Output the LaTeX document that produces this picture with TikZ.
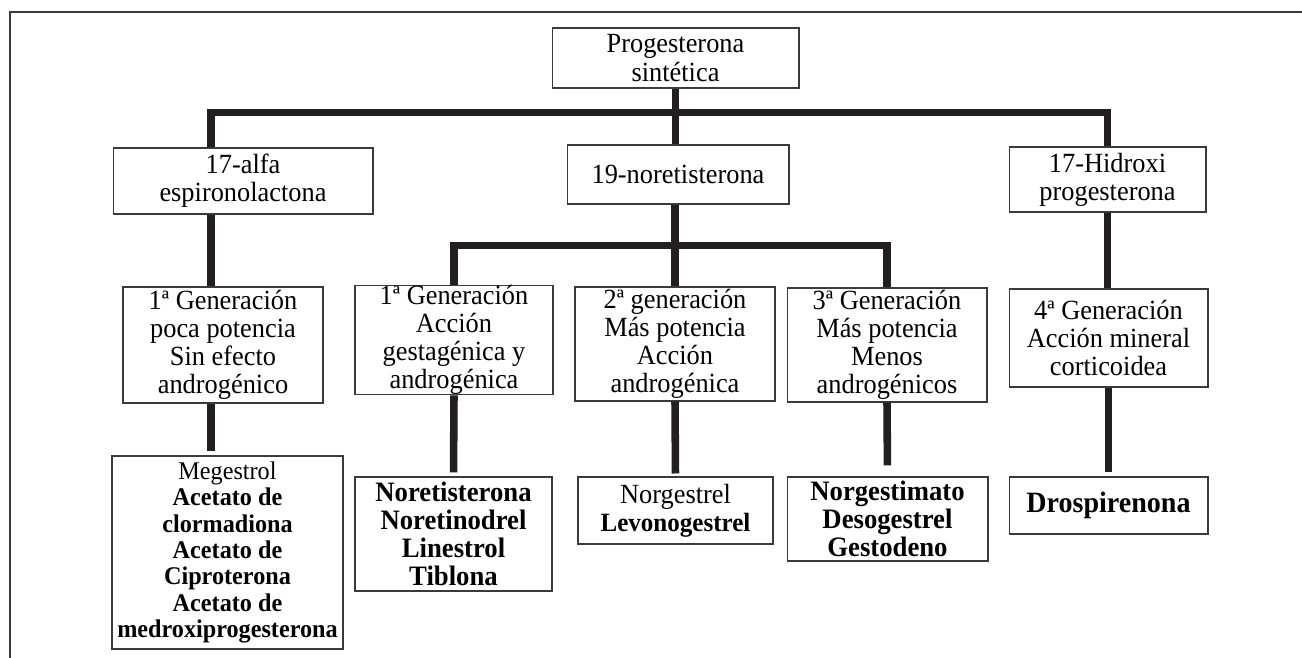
\documentclass[tikz,border=0pt]{standalone}
\usepackage{fontspec}
\setmainfont{Liberation Serif}[FakeStretch=0.95]
\usetikzlibrary{positioning,calc}
\definecolor{tinta}{HTML}{231F20}
\definecolor{borde}{HTML}{3A3A3A}

\begin{document}
\begin{tikzpicture}[x=0.02cm,y=-0.02cm,font=\fontsize{15.8}{16}\selectfont,
        b/.style={draw=borde,line width=0.6pt,align=center,inner sep=0pt},
        f/.style={draw=tinta,line width=4.3pt}]
        \useasboundingbox (0,0) rectangle (1302,658);
        \draw[borde,line width=0.8pt] (10,658) -- (10,12) -- (1302,12);
        % nivel 1 y 2
        \node[b,minimum width=4.94cm,minimum height=1.2cm] (prog) at (675.5,58) {Progesterona\\sintética};
        \node[b,minimum width=5.2cm,minimum height=1.32cm] (alfa) at (243,181) {17-alfa\\espironolactona};
        \node[b,minimum width=4.44cm,minimum height=1.18cm] (nor) at (678,174.5) {19-noretisterona};
        \node[b,minimum width=3.94cm,minimum height=1.3cm] (hidroxi) at (1107.5,179.5) {17-Hidroxi\\progesterona};
        % generaciones
        \node[b,minimum width=4cm,minimum height=2.32cm] (genA) at (223,345) {1ª Generación\\poca potencia\\Sin efecto\\androgénico};
        \node[b,minimum width=3.96cm,minimum height=2.16cm] (genB) at (454,340) {1ª Generación\\Acción\\gestagénica y\\androgénica};
        \node[b,minimum width=4cm,minimum height=2.28cm] (genC) at (675,344) {2ª generación\\Más potencia\\Acción\\androgénica};
        \node[b,minimum width=4cm,minimum height=2.28cm] (genD) at (887,345) {3ª Generación\\Más potencia\\Menos\\androgénicos};
        \node[b,minimum width=3.98cm,minimum height=1.96cm] (genE) at (1108.5,338) {4ª Generación\\Acción mineral\\corticoidea};
        % compuestos
        \node[b,minimum width=4.62cm,minimum height=3.86cm,font=\fontsize{14.5}{15}\selectfont] (meg) at (227.5,552.5)
          {Megestrol\\\textbf{Acetato de}\\\textbf{clormadiona}\\\textbf{Acetato de}\\\textbf{Ciproterona}\\\textbf{Acetato de}\\\textbf{medroxiprogesterona}};
        \node[b,minimum width=3.94cm,minimum height=2.28cm,font=\fontsize{16}{16}\bfseries] (noret) at (453.5,534)
          {Noretisterona\\Noretinodrel\\Linestrol\\Tiblona};
        \node[b,minimum width=3.9cm,minimum height=1.34cm] (norg) at (675.5,510.5)
          {Norgestrel\\{\fontsize{15}{16}\selectfont\textbf{Levonogestrel}}};
        \node[b,minimum width=4.02cm,minimum height=1.68cm,font=\fontsize{16}{16}\bfseries] (norgest) at (887.5,519)
          {Norgestimato\\Desogestrel\\Gestodeno};
        \node[b,minimum width=3.98cm,minimum height=1.14cm,font=\fontsize{16.8}{17}\bfseries] (drosp) at (1108.5,505.5) {Drospirenona};
        % conectores
        \coordinate (lcol) at (211,112.5);
        \coordinate (sub) at (675,245.5);
        \draw[f] (prog.south) -- (prog.south |- nor.north);
        \draw[f] (alfa.north -| lcol) -- (lcol) -| (hidroxi.north);
        \draw[f] (alfa.south -| lcol) -- (genA.north -| lcol);
        \draw[f,shorten >=2.3pt] (genA.south -| lcol) -- (meg.north -| lcol);
        \draw[f] (nor.south -| sub) -- (genC.north);
        \draw[f] (genB.north) |- (sub) -| (genD.north);
        \draw[f,shorten >=2.3pt] (genB.south) -- (noret.north);
        \draw[f,shorten >=1.7pt] (genC.south) -- (norg.north);
        \draw[f,shorten >=6.3pt] (genD.south) -- (norgest.north);
        \draw[f] (hidroxi.south) -- (hidroxi.south |- genE.north);
        \draw[f,shorten >=2.3pt] (genE.south) -- (genE.south |- drosp.north);
      \end{tikzpicture}
\end{document}
